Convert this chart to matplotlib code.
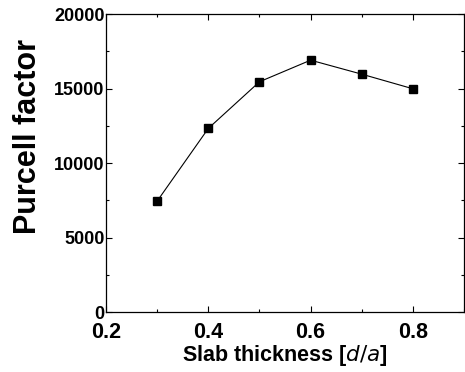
import matplotlib
matplotlib.use("Agg")
import matplotlib.pyplot as plt
from matplotlib.ticker import MultipleLocator

thickness = [0.3, 0.4, 0.5, 0.6, 0.7, 0.8]
purcell = [7450, 12330, 15460, 16910, 15970, 14990]

plt.rcParams['font.family'] = ['Liberation Sans', 'DejaVu Sans']

fig = plt.figure(figsize=(4.65, 3.72), dpi=100)
ax = fig.add_axes([0.228, 0.161, 0.77, 0.801])
ax.plot(thickness, purcell, color='black', lw=0.8, marker='s', ms=6,
        mfc='black', mec='black')
ax.set_xlim(0.2, 0.9)
ax.set_ylim(0, 20000)
ax.xaxis.set_major_locator(MultipleLocator(0.2))
ax.xaxis.set_minor_locator(MultipleLocator(0.1))
ax.yaxis.set_major_locator(MultipleLocator(5000))
ax.yaxis.set_minor_locator(MultipleLocator(2500))
ax.tick_params(which='both', direction='in', top=True, right=True, width=0.8)
ax.tick_params(which='major', length=4)
ax.tick_params(which='minor', length=2)
ax.tick_params(axis='x', labelsize=15.5, pad=7)
ax.tick_params(axis='y', labelsize=13, pad=1)
for lab in ax.get_yticklabels():
    lab.set_fontweight('bold')
for s in ax.spines.values():
    s.set_linewidth(0.9)
ax.set_xticks([0.2, 0.4, 0.6, 0.8])
ax.set_xticklabels(['0.2', '0.4', '0.6', '0.8'], fontweight='bold')
ax.set_xlabel('Slab thickness [$\\mathbf{\\mathit{d/a}}$]', fontsize=15.5,
              fontweight='bold', labelpad=0)
ax.set_ylabel('Purcell factor', fontsize=22, fontweight='bold')
ax.yaxis.set_label_coords(-0.175, 0.59)
fig.savefig('out.png', dpi=100)
